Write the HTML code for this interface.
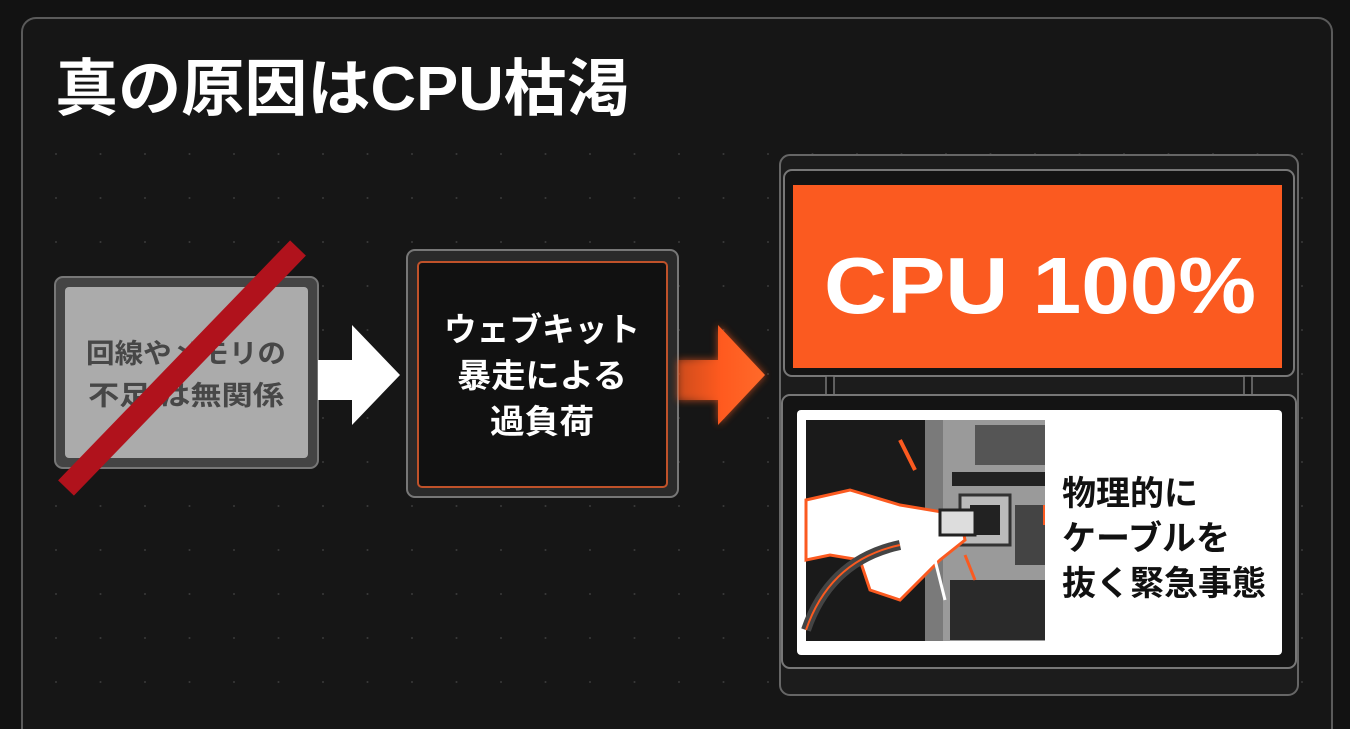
<!DOCTYPE html>
<html><head><meta charset="utf-8"><style>
html,body{margin:0;padding:0;background:#121212;}
svg{display:block;}
text{font-family:"Liberation Sans","Noto Sans CJK JP",sans-serif;font-weight:bold;}
</style></head><body>
<svg width="1350" height="729" viewBox="0 0 1350 729" xmlns="http://www.w3.org/2000/svg">
<defs>
<pattern id="dots" x="55" y="153" width="44.5" height="44" patternUnits="userSpaceOnUse">
<circle cx="1" cy="1" r="1" fill="#3a3a3a"/>
</pattern>
<linearGradient id="og" x1="0" x2="1"><stop offset="0" stop-color="#ff5a1f" stop-opacity="0.3"/><stop offset="0.5" stop-color="#ff5a1f"/><stop offset="1" stop-color="#ff6a2a"/></linearGradient>
<filter id="glow"><feGaussianBlur stdDeviation="4"/></filter>
</defs>
<rect width="1350" height="729" fill="#121212"/>
<rect x="22" y="18" width="1310" height="730" rx="14" fill="#161616" stroke="#5a5a5a" stroke-width="2"/>
<rect x="40" y="140" width="1280" height="580" fill="url(#dots)"/>
<text x="55" y="110" font-size="62" fill="#fff" textLength="575" lengthAdjust="spacingAndGlyphs">真の原因はCPU枯渇</text>

<!-- box1 -->
<rect x="55" y="277" width="263" height="191" rx="8" fill="#444" stroke="#777" stroke-width="2"/>
<rect x="65" y="287" width="243" height="171" rx="4" fill="#ababab"/>
<text x="186" y="363" font-size="27" fill="#474747" text-anchor="middle" font-weight="normal" textLength="200" lengthAdjust="spacingAndGlyphs">回線やメモリの</text>
<text x="186" y="405" font-size="27" fill="#474747" text-anchor="middle" font-weight="normal" textLength="196" lengthAdjust="spacingAndGlyphs">不足 は無関係</text>
<line x1="298" y1="248" x2="66" y2="488" stroke="#b0121c" stroke-width="22"/>

<!-- white arrow -->
<polygon points="318,360 352,360 352,325 400,375 352,425 352,400 318,400" fill="#fff"/>

<!-- box2 -->
<rect x="407" y="250" width="271" height="247" rx="8" fill="#2a2a2a" stroke="#777" stroke-width="2"/>
<rect x="418" y="262" width="249" height="225" rx="4" fill="#111" stroke="#c0522a" stroke-width="2"/>
<text x="542" y="341" font-size="33" fill="#fff" text-anchor="middle" textLength="196" lengthAdjust="spacingAndGlyphs">ウェブキット</text>
<text x="542" y="387" font-size="33" fill="#fff" text-anchor="middle" textLength="170" lengthAdjust="spacingAndGlyphs">暴走による</text>
<text x="542" y="433" font-size="33" fill="#fff" text-anchor="middle" textLength="104" lengthAdjust="spacingAndGlyphs">過負荷</text>

<!-- orange arrow -->
<polygon points="678,360 718,360 718,325 765,375 718,425 718,400 678,400" fill="#ff5a1f" filter="url(#glow)" opacity="0.7"/>
<polygon points="678,360 718,360 718,325 765,375 718,425 718,400 678,400" fill="url(#og)"/>

<!-- right panel -->
<rect x="780" y="155" width="518" height="540" rx="10" fill="#1c1c1c" stroke="#666" stroke-width="2"/>
<rect x="784" y="170" width="510" height="206" rx="8" fill="#141414" stroke="#777" stroke-width="2"/>
<rect x="793" y="185" width="489" height="183" fill="#fb5a20"/>
<text x="1040" y="313" font-size="80" fill="#fff" text-anchor="middle" textLength="432" lengthAdjust="spacingAndGlyphs">CPU 100%</text>
<rect x="826" y="376" width="8" height="20" fill="#141414" stroke="#777" stroke-width="1.5"/>
<rect x="1244" y="376" width="8" height="20" fill="#141414" stroke="#777" stroke-width="1.5"/>
<rect x="782" y="395" width="514" height="273" rx="8" fill="#141414" stroke="#777" stroke-width="2"/>
<rect x="797" y="410" width="485" height="245" rx="4" fill="#fff"/>
<!-- illustration -->
<g>
<rect x="806" y="420" width="239" height="221" fill="#1a1a1a"/>
<rect x="925" y="420" width="18" height="221" fill="#7a7a7a"/>
<rect x="943" y="420" width="102" height="221" fill="#9a9a9a"/>
<rect x="975" y="425" width="70" height="40" fill="#555"/>
<rect x="952" y="472" width="93" height="14" fill="#222"/>
<rect x="960" y="495" width="50" height="50" fill="#bbb" stroke="#333" stroke-width="3"/>
<rect x="970" y="505" width="30" height="30" fill="#222"/>
<rect x="1015" y="505" width="30" height="60" fill="#444"/>
<rect x="1043" y="505" width="2" height="20" fill="#fb5a20"/>
<rect x="950" y="580" width="95" height="60" fill="#2a2a2a"/>
<path d="M806,500 L850,490 L900,505 L960,515 L965,540 L940,560 L900,600 L870,590 L860,560 L830,555 L806,560 Z" fill="#fff" stroke="#fb5a20" stroke-width="3"/>
<rect x="940" y="510" width="35" height="25" fill="#ddd" stroke="#222" stroke-width="3"/>
<path d="M806,630 Q830,560 900,545" fill="none" stroke="#444" stroke-width="10"/>
<path d="M806,630 Q830,560 900,545" fill="none" stroke="#fb5a20" stroke-width="2"/>
<line x1="900" y1="440" x2="915" y2="470" stroke="#fb5a20" stroke-width="4"/>
<line x1="935" y1="560" x2="945" y2="600" stroke="#fff" stroke-width="3"/>
<line x1="965" y1="555" x2="975" y2="580" stroke="#fb5a20" stroke-width="3"/>
</g>
<text x="1062" y="505" font-size="34" fill="#111" textLength="136" lengthAdjust="spacingAndGlyphs">物理的に</text>
<text x="1062" y="550" font-size="34" fill="#111" textLength="168" lengthAdjust="spacingAndGlyphs">ケーブルを</text>
<text x="1062" y="595" font-size="34" fill="#111" textLength="204" lengthAdjust="spacingAndGlyphs">抜く緊急事態</text>
</svg>
</body></html>
